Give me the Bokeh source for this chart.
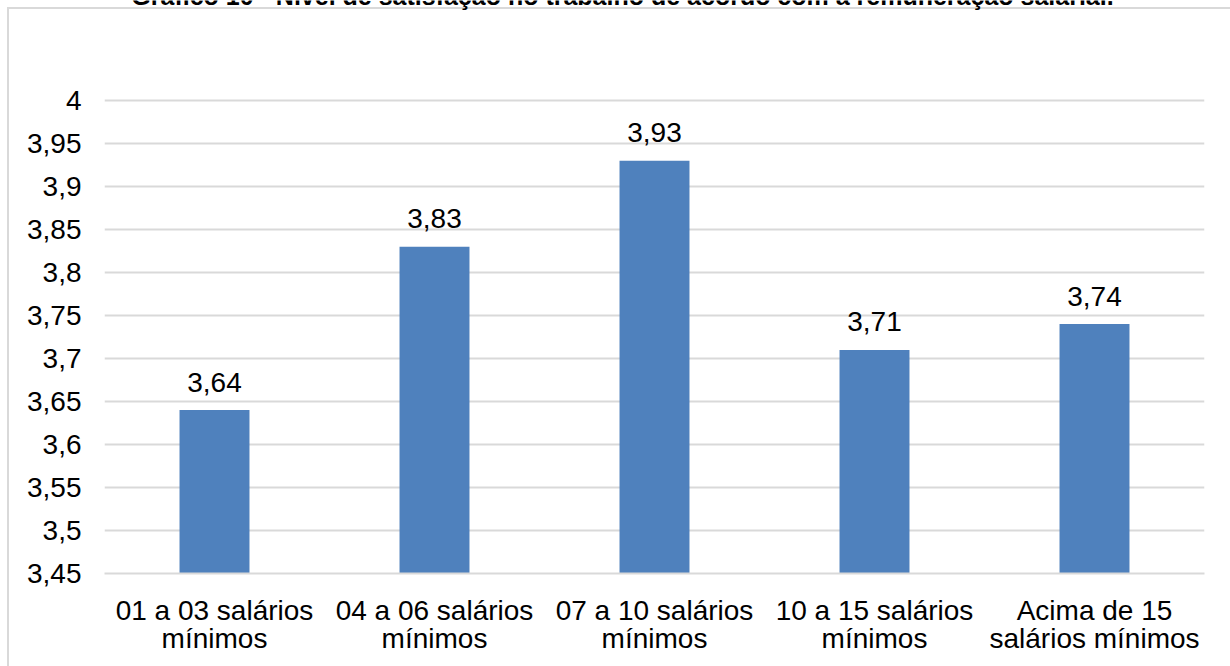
from bokeh.plotting import figure
from bokeh.models import ColumnDataSource, FixedTicker, Label
from bokeh.core.properties import value
from bokeh.embed import file_html
from bokeh.resources import INLINE

# Satisfaction level by salary range
categories = [
    "01 a 03 salários\nmínimos",
    "04 a 06 salários\nmínimos",
    "07 a 10 salários\nmínimos",
    "10 a 15 salários\nmínimos",
    "Acima de 15\nsalários mínimos",
]
values = [3.64, 3.83, 3.93, 3.71, 3.74]
value_labels = ["3,64", "3,83", "3,93", "3,71", "3,74"]
y_ticks = [3.45, 3.50, 3.55, 3.60, 3.65, 3.70, 3.75, 3.80, 3.85, 3.90, 3.95, 4.00]
y_tick_labels = ["3,45", "3,5", "3,55", "3,6", "3,65", "3,7", "3,75", "3,8", "3,85", "3,9", "3,95", "4"]
title_text = "Gráfico 10 - Nível de satisfação no trabalho de acordo com a remuneração salarial."

FONT = "Liberation Sans"
GRID = "#d9d9d9"
BAR = "#4f81bd"
FS = "28px"

W, H = 1230, 666
BORDER_BOTTOM = 93
# the plot frame runs to the top edge; the axis tops out at 4 (drawn 100px below the top)
frame_h = H - BORDER_BOTTOM
y_start, y_top = 3.45, 4.0
y_end = y_start + (y_top - y_start) * frame_h / (frame_h - 100)

src = ColumnDataSource(dict(cat=categories, val=values, lab=value_labels))

p = figure(
    x_range=categories,
    y_range=(y_start, y_end),
    width=W,
    height=H,
    output_backend="svg",
    toolbar_location=None,
    min_border_left=104,
    min_border_right=26,
    min_border_top=0,
    min_border_bottom=BORDER_BOTTOM,
)
p.outline_line_color = None
# transparent canvas so the page-level border lines show through
p.background_fill_color = None
p.border_fill_color = None
p.styles = {
    "background-color": "white",
    "background-image": "linear-gradient(#d9d9d9, #d9d9d9), linear-gradient(#d9d9d9, #d9d9d9)",
    "background-size": "2px 100%, 100% 2px",
    "background-position": "7px 7px, 7px 7px",
    "background-repeat": "no-repeat",
}

p.vbar(x="cat", top="val", bottom=y_start, width=0.318, source=src,
       fill_color=BAR, line_color=None)

p.text(x="cat", y="val", text="lab", source=src,
       text_align="center", text_baseline="alphabetic", y_offset=-28,
       text_font=value(FONT), text_font_size=FS, text_color="black")

# y axis with comma decimals
p.yaxis.ticker = FixedTicker(ticks=y_ticks)
p.yaxis.major_label_overrides = {t: s for t, s in zip(y_ticks, y_tick_labels)}
p.yaxis.axis_line_color = None
p.yaxis.major_tick_line_color = None
p.yaxis.minor_tick_line_color = None
p.yaxis.major_label_standoff = 17
p.yaxis.major_label_text_font = FONT
p.yaxis.major_label_text_font_size = FS
p.yaxis.major_label_text_color = "black"

p.xaxis.axis_line_color = GRID
p.xaxis.axis_line_width = 2
p.xaxis.major_tick_line_color = None
p.xaxis.minor_tick_line_color = None
p.xaxis.major_label_standoff = 15
p.xaxis.major_label_text_font = FONT
p.xaxis.major_label_text_font_size = FS
p.xaxis.major_label_text_color = "black"
p.xaxis.major_label_text_line_height = 0.93

p.xgrid.grid_line_color = None
p.ygrid.grid_line_color = GRID
p.ygrid.grid_line_width = 2

# caption above the chart, mostly cut by the top edge
p.add_layout(Label(
    x=518, y=frame_h + 5, x_units="screen", y_units="screen",
    text=title_text, text_align="center", text_baseline="alphabetic",
    text_font=FONT, text_font_style="bold", text_font_size="25px",
    text_color="black",
))

open("out.html", "w").write(file_html(p, INLINE))
